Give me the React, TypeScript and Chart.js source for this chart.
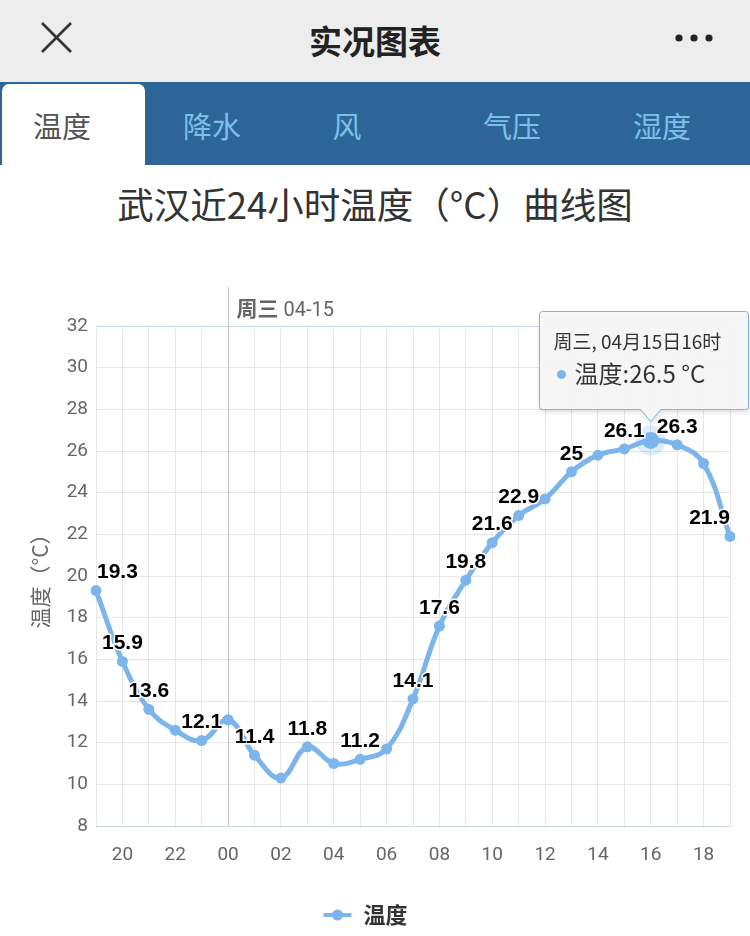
import React, { useEffect, useRef } from 'react';
import { Chart, registerables } from 'chart.js';

Chart.register(...registerables);

// ---- data ----
const hours = ['19', '20', '21', '22', '23', '00', '01', '02', '03', '04', '05', '06', '07', '08', '09', '10', '11', '12', '13', '14', '15', '16', '17', '18', '19'];
const temps = [19.3, 15.9, 13.6, 12.6, 12.1, 13.1, 11.4, 10.3, 11.8, 11.0, 11.2, 11.7, 14.1, 17.6, 19.8, 21.6, 22.9, 23.7, 25, 25.8, 26.1, 26.5, 26.3, 25.4, 21.9];
const labelledIndices = [0, 1, 2, 4, 6, 8, 10, 12, 13, 14, 15, 16, 18, 20, 22, 24];
const yTicksMin = 8;
const yTicksMax = 32;
const yStep = 2;
const tabs = ['温度', '降水', '风', '气压', '湿度'];
const tabCenters = [62, 212, 347, 512, 662];
const dayLineIndex = 5;
const dayLabelBold = '周三';
const dayLabelNormal = ' 04-15';
const tooltipIndex = 21;
const tooltipTitle = '周三, 04月15日16时';
const seriesName = '温度';
const unit = '°C';

const LINE = '#7cb5ec';
const CJK = '"Noto Sans CJK SC", "Noto Sans", sans-serif';

function makeLegendIcon(): HTMLCanvasElement {
  const c = document.createElement('canvas');
  c.width = 30;
  c.height = 14;
  const g = c.getContext('2d')!;
  g.strokeStyle = LINE;
  g.lineWidth = 4;
  g.beginPath();
  g.moveTo(1, 7);
  g.lineTo(29, 7);
  g.stroke();
  g.fillStyle = LINE;
  g.beginPath();
  g.arc(15, 7, 5.5, 0, Math.PI * 2);
  g.fill();
  return c;
}

const dayLinePlugin = {
  id: 'dayLine',
  beforeDatasetsDraw(chart: any) {
    const { ctx, chartArea, scales } = chart;
    const x = Math.round(scales.x.getPixelForValue(dayLineIndex)) + 0.5;
    ctx.save();
    ctx.strokeStyle = '#c8c8c8';
    ctx.lineWidth = 1;
    ctx.beginPath();
    ctx.moveTo(x, chartArea.top - 39);
    ctx.lineTo(x, chartArea.bottom);
    ctx.stroke();
    ctx.textBaseline = 'alphabetic';
    ctx.fillStyle = '#666';
    ctx.font = `bold 21px ${CJK}`;
    const tx = x + 8;
    const ty = chartArea.top - 10;
    ctx.fillText(dayLabelBold, tx, ty);
    const w = ctx.measureText(dayLabelBold).width;
    ctx.font = `20px Roboto, "Liberation Sans", sans-serif`;
    ctx.fillText(dayLabelNormal, tx + w, ty);
    ctx.restore();
  },
};

const labelsPlugin = {
  id: 'valueLabels',
  afterDatasetsDraw(chart: any) {
    const { ctx, chartArea } = chart;
    const meta = chart.getDatasetMeta(0);
    ctx.save();
    const hp = meta.data[tooltipIndex];
    ctx.fillStyle = 'rgba(124,181,236,0.25)';
    ctx.beginPath();
    ctx.arc(hp.x, hp.y, 15, 0, Math.PI * 2);
    ctx.fill();
    ctx.fillStyle = LINE;
    ctx.beginPath();
    ctx.arc(hp.x, hp.y, 8.5, 0, Math.PI * 2);
    ctx.fill();

    ctx.font = 'bold 21px "Liberation Sans", Arial, sans-serif';
    ctx.textAlign = 'center';
    ctx.textBaseline = 'middle';
    ctx.lineJoin = 'round';
    for (const i of labelledIndices) {
      const p = meta.data[i];
      const text = String(temps[i]);
      const w = ctx.measureText(text).width;
      let x = p.x;
      x = Math.max(chartArea.left + w / 2 + 1, Math.min(chartArea.right - w / 2, x));
      const y = p.y - 18;
      ctx.strokeStyle = '#fff';
      ctx.lineWidth = 3;
      ctx.strokeText(text, x, y);
      ctx.fillStyle = '#000';
      ctx.fillText(text, x, y);
    }
    ctx.restore();
  },
};

const tooltipPlugin = {
  id: 'fixedTooltip',
  afterDraw(chart: any) {
    const { ctx } = chart;
    const meta = chart.getDatasetMeta(0);
    const p = meta.data[tooltipIndex];
    const boxW = 209;
    const boxH = 98;
    const tipY = p.y - 20;
    const bottom = tipY - 12;
    const top = bottom - boxH;
    let left = p.x - boxW / 2;
    left = Math.min(chart.width - 2 - boxW, Math.max(2, left));
    left = Math.round(left) + 0.5;
    const t = Math.round(top) + 0.5;
    const b = t + boxH;
    const r = 3;
    ctx.save();
    ctx.beginPath();
    ctx.moveTo(left + r, t);
    ctx.lineTo(left + boxW - r, t);
    ctx.quadraticCurveTo(left + boxW, t, left + boxW, t + r);
    ctx.lineTo(left + boxW, b - r);
    ctx.quadraticCurveTo(left + boxW, b, left + boxW - r, b);
    ctx.lineTo(p.x + 10, b);
    ctx.lineTo(p.x, b + 12);
    ctx.lineTo(p.x - 10, b);
    ctx.lineTo(left + r, b);
    ctx.quadraticCurveTo(left, b, left, b - r);
    ctx.lineTo(left, t + r);
    ctx.quadraticCurveTo(left, t, left + r, t);
    ctx.closePath();
    ctx.shadowColor = 'rgba(0,0,0,0.18)';
    ctx.shadowBlur = 5;
    ctx.shadowOffsetX = 1;
    ctx.shadowOffsetY = 2;
    ctx.fillStyle = 'rgba(248,248,248,0.94)';
    ctx.fill();
    ctx.shadowColor = 'transparent';
    ctx.strokeStyle = LINE;
    ctx.lineWidth = 1;
    ctx.stroke();

    ctx.textBaseline = 'middle';
    ctx.textAlign = 'left';
    ctx.fillStyle = '#333';
    ctx.font = `19px ${CJK}`;
    ctx.fillText(tooltipTitle, left + 14, t + 30);
    ctx.fillStyle = LINE;
    ctx.beginPath();
    ctx.arc(left + 22, t + 63, 4.5, 0, Math.PI * 2);
    ctx.fill();
    ctx.fillStyle = '#333';
    ctx.font = `24px ${CJK}`;
    ctx.fillText(`${seriesName}:${temps[tooltipIndex]} ${unit}`, left + 35, t + 62);
    ctx.restore();
  },
};

function TempChart() {
  const ref = useRef<HTMLCanvasElement | null>(null);
  useEffect(() => {
    if (!ref.current) return;
    const chart = new Chart(ref.current, {
      type: 'line',
      data: {
        labels: hours,
        datasets: [
          {
            label: seriesName,
            data: temps,
            borderColor: LINE,
            backgroundColor: LINE,
            borderWidth: 5,
            tension: 0.4,
            pointRadius: 5.5,
            pointBorderWidth: 0,
            pointBackgroundColor: LINE,
            fill: false,
          },
        ],
      },
      options: {
        animation: false,
        responsive: false,
        maintainAspectRatio: false,
        events: [],
        layout: { padding: { top: 86, right: 20, left: 0, bottom: 0 } },
        plugins: {
          tooltip: { enabled: false },
          legend: {
            position: 'bottom',
            labels: {
              usePointStyle: true,
              pointStyle: makeLegendIcon() as any,
              pointStyleWidth: 30,
              padding: 10,
              color: '#333',
              font: { family: CJK, size: 22, weight: 'bold' },
            },
          },
        },
        scales: {
          x: {
            type: 'category',
            offset: false,
            grid: { color: '#e6e6e6', drawTicks: false, lineWidth: 1 },
            border: { color: '#ccd6eb', width: 1 },
            ticks: {
              autoSkip: false,
              maxRotation: 0,
              padding: 18,
              color: '#666',
              font: { family: 'Roboto, "Liberation Sans", sans-serif', size: 19 },
              callback: (_v: any, i: number) => (i % 2 === 1 ? hours[i] : ''),
            },
            afterFit: (s: any) => {
              s.height = 68;
            },
          },
          y: {
            min: yTicksMin,
            max: yTicksMax,
            grid: {
              color: (c: any) => (c.tick && c.tick.value === yTicksMax ? '#ccd6eb' : '#e6e6e6'),
              drawTicks: false,
            },
            border: { display: false },
            ticks: {
              stepSize: yStep,
              padding: 8,
              color: '#666',
              font: { family: 'Roboto, "Liberation Sans", sans-serif', size: 19 },
            },
            title: {
              display: true,
              text: '温度（°C）',
              color: '#666',
              font: { family: CJK, size: 21 },
              padding: { top: 27, bottom: 0 },
            },
            afterFit: (s: any) => {
              s.width = 96;
            },
          },
        },
      } as any,
      plugins: [dayLinePlugin, labelsPlugin, tooltipPlugin],
    });
    return () => chart.destroy();
  }, []);
  return <canvas ref={ref} width={750} height={696} style={{ position: 'absolute', left: 0, top: 240, display: 'block' }} />;
}

export default function App() {
  useEffect(() => {
    document.body.style.margin = '0';
    document.body.style.background = '#fff';
  }, []);
  return (
    <div style={{ position: 'relative', width: 750, height: 936, overflow: 'hidden', background: '#fff', fontFamily: CJK }}>
      <div style={{ position: 'absolute', left: 0, top: 0, width: 750, height: 82, background: '#ededed' }}>
        <svg width={34} height={34} style={{ position: 'absolute', left: 40, top: 21 }}>
          <line x1={2} y1={2} x2={31} y2={31} stroke="#333" strokeWidth={2.6} />
          <line x1={31} y1={2} x2={2} y2={31} stroke="#333" strokeWidth={2.6} />
        </svg>
        <div style={{ position: 'absolute', left: 0, width: 750, top: 16, textAlign: 'center', fontSize: 33, fontWeight: 'bold', color: '#222', lineHeight: '48px' }}>实况图表</div>
        <svg width={44} height={12} style={{ position: 'absolute', left: 672, top: 32 }}>
          <circle cx={7} cy={6} r={3.6} fill="#222" />
          <circle cx={22} cy={6} r={3.6} fill="#222" />
          <circle cx={37} cy={6} r={3.6} fill="#222" />
        </svg>
      </div>
      <div style={{ position: 'absolute', left: 0, top: 82, width: 750, height: 83, background: '#2e6597' }} />
      <div style={{ position: 'absolute', left: 2, top: 84, width: 143, height: 81, background: '#fff', borderRadius: '7px 7px 0 0' }} />
      {tabs.map((t, i) => (
        <div
          key={i}
          style={{
            position: 'absolute',
            left: tabCenters[i] - 60,
            width: 120,
            top: 104,
            textAlign: 'center',
            fontSize: 29,
            lineHeight: '42px',
            color: i === 0 ? '#555' : '#7cc0ea',
          }}
        >
          {t}
        </div>
      ))}
      <div style={{ position: 'absolute', left: 0, width: 750, top: 180, textAlign: 'center', fontSize: 36.5, color: '#333', lineHeight: '48px' }}>
        武汉近24小时温度（°C）曲线图
      </div>
      <TempChart />
    </div>
  );
}
